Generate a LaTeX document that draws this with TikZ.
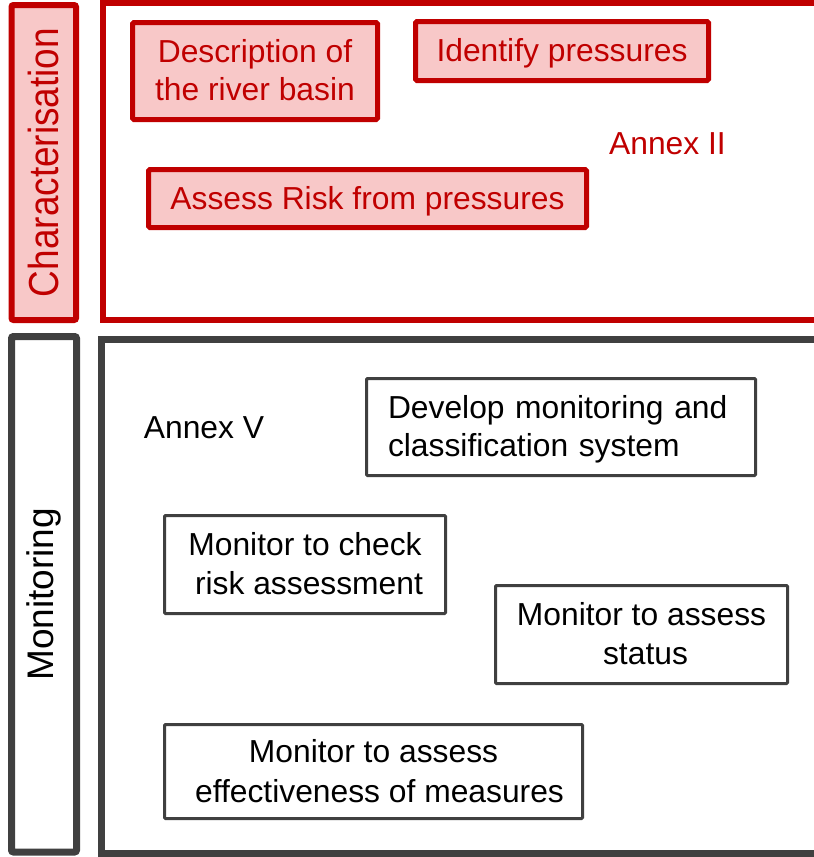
\documentclass[tikz,border=0pt]{standalone}
\usepackage{fontspec}
\setmainfont{Liberation Sans}
\newfontfamily\tallfont[FakeStretch=0.88]{Liberation Sans}
\definecolor{wfdred}{HTML}{C00000}
\definecolor{wfdpink}{HTML}{F8C8C8}
\definecolor{wfdgray}{HTML}{404040}
\begin{document}
\begin{tikzpicture}[x=1pt,y=-1pt,
  boxfont/.style={font=\fontsize{31.8}{38.5}\selectfont},
  textbox/.style={boxfont, align=center, inner sep=0pt, text height=25pt, text depth=4pt},
  % centred lines sit on the last baseline, a fixed text width on the first
  twolines/.style={text height=63.5pt},
  twolinesleft/.style={text depth=42.5pt},
  redbox/.style={textbox, draw=wfdred, fill=wfdpink, text=wfdred, line width=5pt, rounded corners=1.5pt},
  graybox/.style={textbox, draw=wfdgray, fill=white, text=black, line width=3pt, rounded corners=1pt},
  phasebar/.style={rotate=90, inner sep=0pt, line width=6pt, rounded corners=2pt},
  frame/.style={inner sep=0pt, line width=6pt},
  annex/.style={boxfont, anchor=base, inner sep=0pt}
]
\useasboundingbox (0,0) rectangle (814,857);
\clip (0,0) rectangle (814,857);

% Characterisation phase
\node[phasebar, draw=wfdred, fill=wfdpink, text=wfdred,
      minimum width=315pt, minimum height=64.5pt,
      font=\tallfont\fontsize{42}{42}\selectfont] (charbar) at (43.75,162.5) {Characterisation};
\node[frame, draw=wfdred, minimum width=727pt, minimum height=317pt] (charframe) at (466.5,161.5) {};

\node[redbox, twolines, minimum width=245pt, minimum height=97pt] (describe) at (255,71)
  {Description of\\the river basin};
\node[redbox, minimum width=293pt, minimum height=59pt] (pressures) at (562,51)
  {Identify pressures};
\node[redbox, minimum width=438pt, minimum height=58pt] (risk) at (367.5,198.5)
  {Assess Risk from pressures};
\node[annex, text=wfdred] (annex2) at (667.5,154) {Annex II};

% Monitoring phase
\node[phasebar, draw=wfdgray, fill=white, text=black, line width=7pt,
      minimum width=515.5pt, minimum height=65pt,
      font=\fontsize{37}{37}\selectfont] (monbar) at (44,594.25) {Monitoring};
\node[frame, draw=wfdgray, line width=6.5pt, minimum width=728.5pt, minimum height=514pt] (monframe) at (465.75,596.5) {};

\node[annex, text=black] (annex5) at (204,438) {Annex V};
\node[graybox, twolinesleft, align=left, text width=346pt, inner xsep=21.5pt, minimum height=97pt] (develop) at (561,427)
  {Develop monitoring and\\classification system};
\node[graybox, twolines, minimum width=281pt, minimum height=98pt] (checkrisk) at (305,564.5)
  {Monitor to check\\\hspace*{8pt}risk assessment};
\node[graybox, twolines, minimum width=292pt, minimum height=98pt] (status) at (641.5,634.5)
  {Monitor to assess\\\hspace*{8pt}status};
\node[graybox, minimum width=418pt, minimum height=94pt, font=\fontsize{31.8}{40}\selectfont,
      text height=65pt] (effect) at (373.5,771.5)
  {Monitor to assess\\\hspace*{12pt}effectiveness of measures};
\end{tikzpicture}
\end{document}
